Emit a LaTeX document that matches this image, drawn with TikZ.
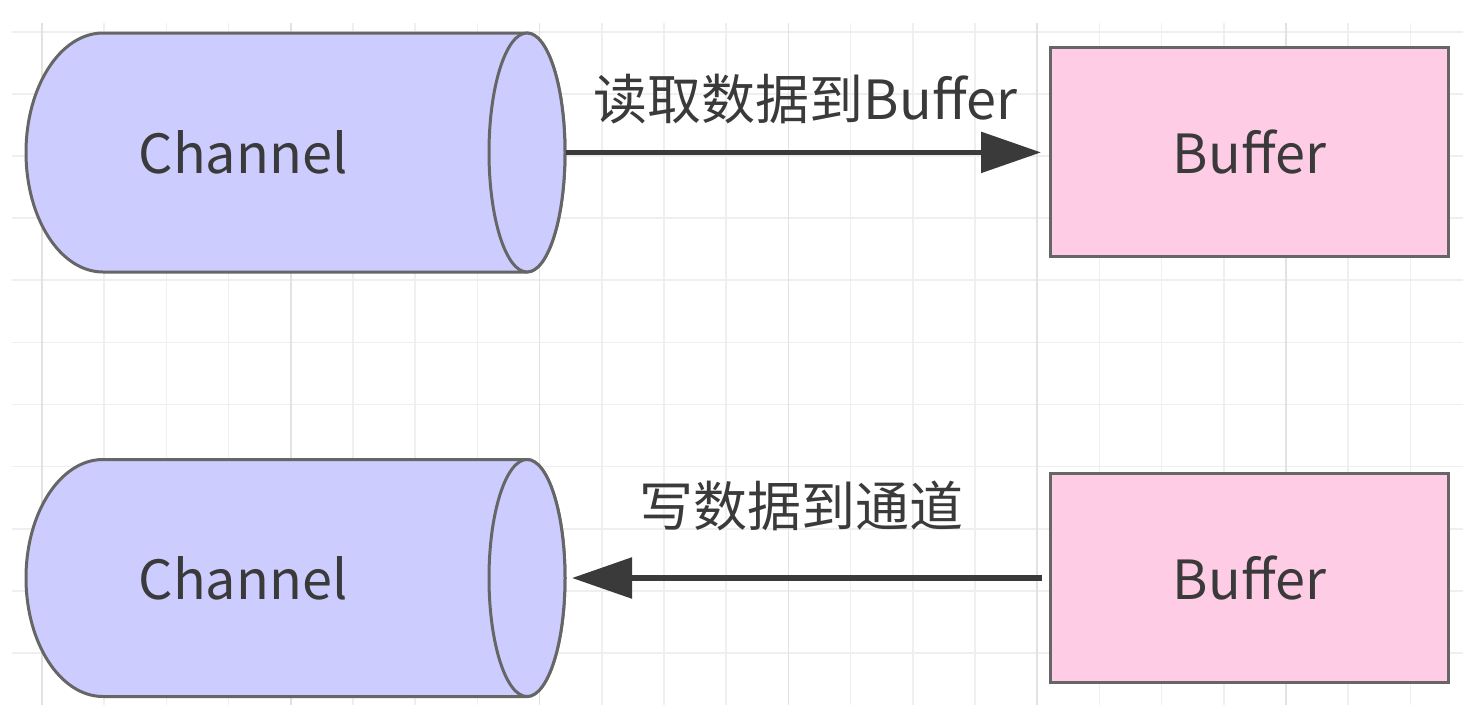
\documentclass[tikz,border=0pt]{standalone}
\usepackage{fontspec}
\setmainfont{Noto Sans CJK SC}
\usetikzlibrary{arrows.meta}
\definecolor{chanfill}{HTML}{CCCCFF}
\definecolor{buffill}{HTML}{FFCCE6}
\definecolor{edgegray}{HTML}{666666}
\definecolor{inkgray}{HTML}{3A3A3A}
\definecolor{gridminor}{HTML}{EFEFEF}
\definecolor{gridmajor}{HTML}{E2E2E2}

\begin{document}
\begin{tikzpicture}[x=0.5pt,y=-0.5pt] \tikzset{% styles for the grid, shapes and arrows
        gridline/.style={gridminor, line width=0.8pt}, gridbold/.style={gridmajor, line width=0.8pt},
        chan/.style={fill=chanfill, draw=edgegray, line width=1.5pt},
        buf/.style={rectangle, minimum width=199pt, minimum height=104.5pt, fill=buffill, draw=edgegray,
          line width=1.5pt, text=inkgray, font=\fontsize{27}{33}\selectfont},
        txt/.style={text=inkgray, font=\fontsize{27}{33}\selectfont},
        flow/.style={inkgray, line width=2.8pt, -{Triangle[length=30pt,width=20pt]}},
        }
        \path[use as bounding box, fill=white] (0,0) rectangle (1480,728);
        % Grid
        \foreach \i in {0,...,22} \draw[gridline] (42+62.2*\i,23) -- (42+62.2*\i,705);
        \foreach \j in {0,...,10} \draw[gridline] (12,31.7+62.13*\j) -- (1463,31.7+62.13*\j);
        \foreach \i in {0,4,...,20} \draw[gridbold] (42+62.2*\i,23) -- (42+62.2*\i,705);
        % Channels
        \path[chan] (527,33) -- (103,33) arc[start angle=-90,end angle=-270,x radius=77,y radius=119.5]
          -- (527,272) arc[start angle=90,end angle=-90,x radius=38,y radius=119.5] -- cycle;
        \draw[chan] (527,152.5) ellipse[x radius=38,y radius=119.5];
        \path[chan] (527,459.5) -- (103,459.5) arc[start angle=-90,end angle=-270,x radius=77,y radius=118.5]
          -- (527,696.5) arc[start angle=90,end angle=-90,x radius=38,y radius=118.5] -- cycle;
        \draw[chan] (527,578) ellipse[x radius=38,y radius=118.5];
        % Nodes
        \node[txt] (ch1) at (243,152.4) {Channel}; \coordinate (ch1r) at (566,152.4);
        \node[txt] (ch2) at (243,578) {Channel}; \coordinate (ch2r) at (566,578);
        \node[buf] (bf1) at (1249.5,152.4) {Buffer};
        \node[buf] (bf2) at (1249.5,578) {Buffer};
        %Edges
        \draw[flow, shorten >=4pt] (ch1r) -- (bf1.west) node[txt, midway, yshift=26.5pt, xshift=-1pt] {读取数据到Buffer};
        \draw[flow, shorten <=3.5pt, shorten >=3pt] (bf2.west) -- (ch2r) node[txt, midway, yshift=36pt, xshift=-3pt] {写数据到通道};
\end{tikzpicture}
\end{document}
